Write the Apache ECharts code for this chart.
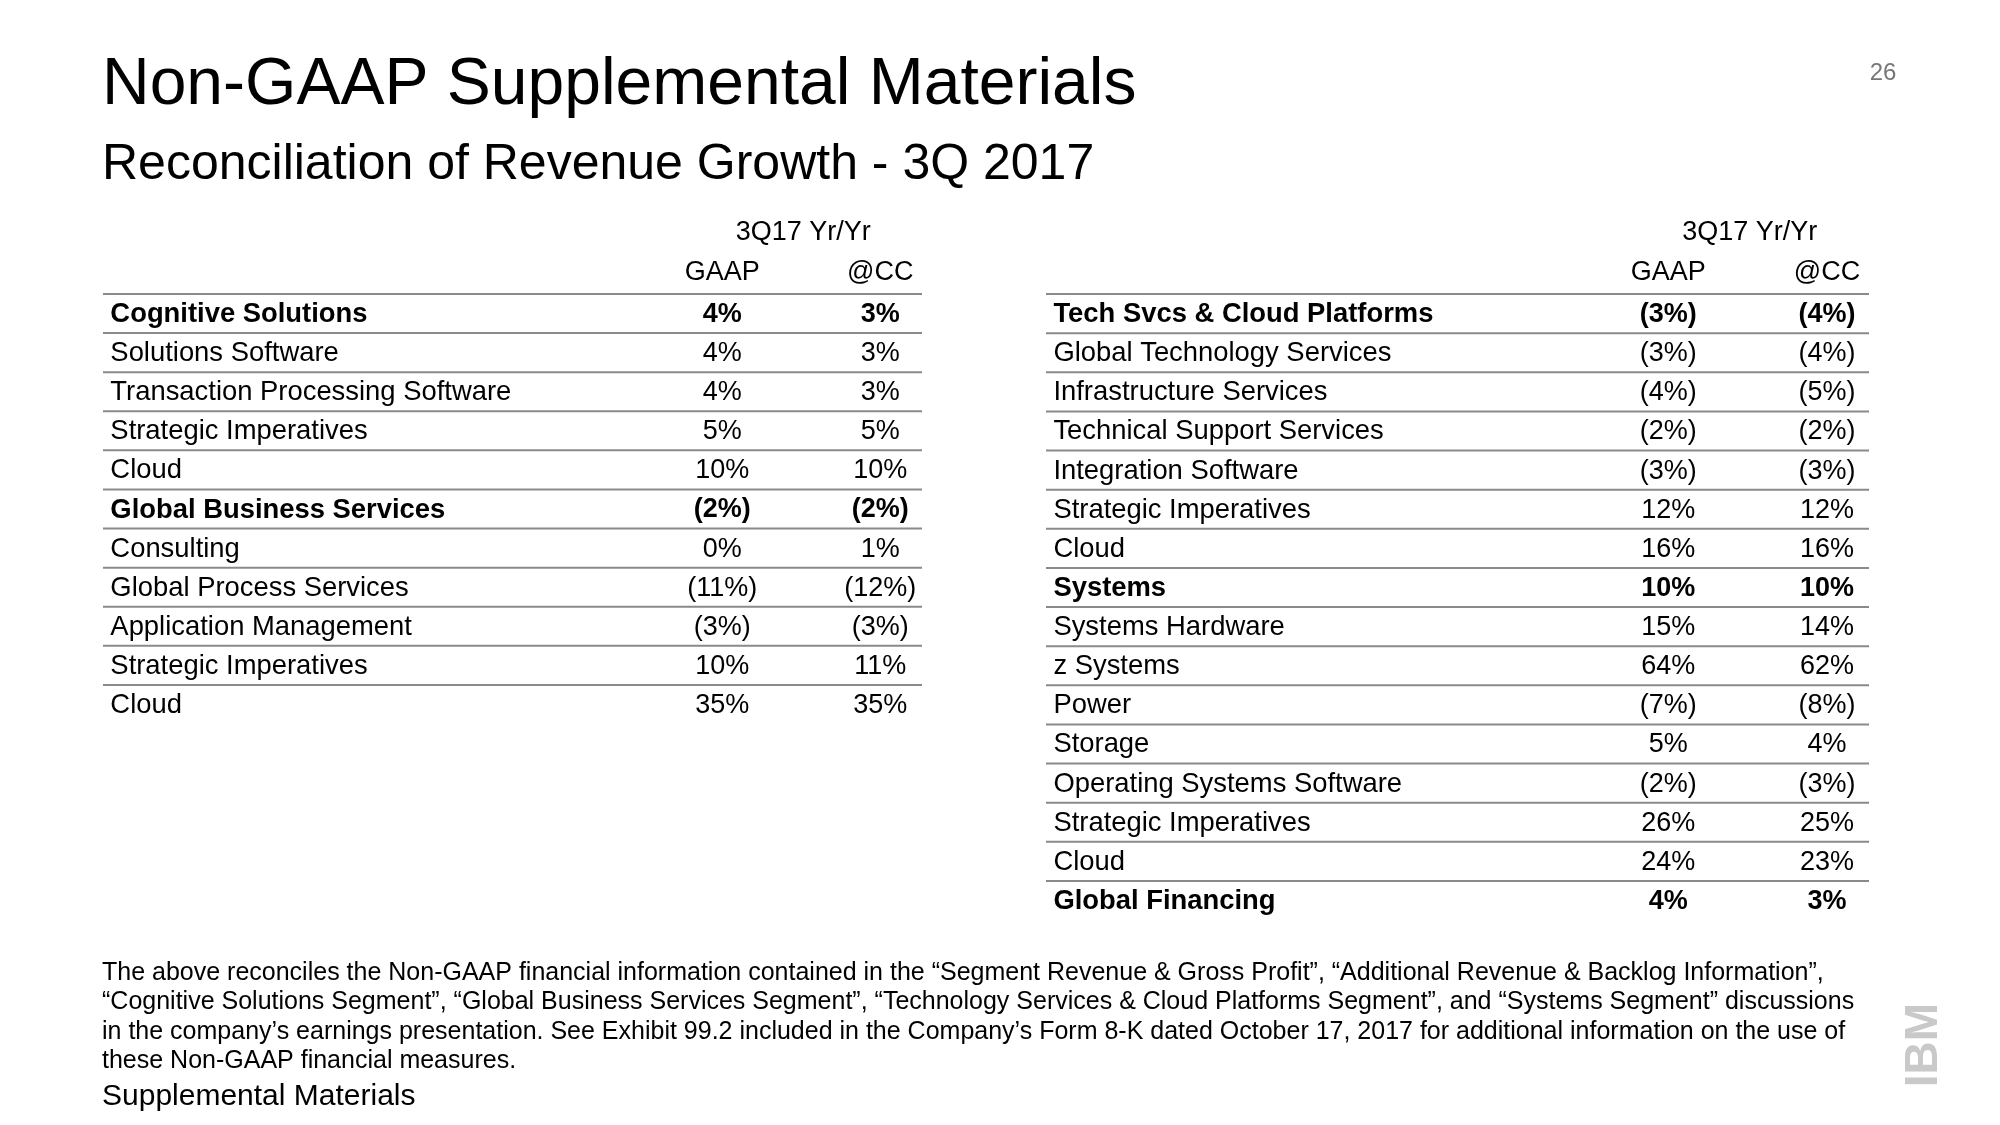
<!DOCTYPE html>
<html>
<head>
<meta charset="utf-8">
<script src="https://cdn.jsdelivr.net/npm/echarts@6/dist/echarts.min.js"></script>
<style>html,body{margin:0;padding:0;background:#fff}#chart{width:2000px;height:1125px}</style>
</head>
<body>
<div id="chart"></div>
<script>
// ---------------- data ----------------
const leftRows = ['Cognitive Solutions', 'Solutions Software', 'Transaction Processing Software', 'Strategic Imperatives', 'Cloud',
  'Global Business Services', 'Consulting', 'Global Process Services', 'Application Management', 'Strategic Imperatives', 'Cloud'];
const leftGaap = [4, 4, 4, 5, 10, -2, 0, -11, -3, 10, 35];
const leftCc = [3, 3, 3, 5, 10, -2, 1, -12, -3, 11, 35];
const leftSegments = ['Cognitive Solutions', 'Global Business Services'];

const rightRows = ['Tech Svcs & Cloud Platforms', 'Global Technology Services', 'Infrastructure Services', 'Technical Support Services',
  'Integration Software', 'Strategic Imperatives', 'Cloud', 'Systems', 'Systems Hardware', 'z Systems', 'Power', 'Storage',
  'Operating Systems Software', 'Strategic Imperatives', 'Cloud', 'Global Financing'];
const rightGaap = [-3, -3, -4, -2, -3, 12, 16, 10, 15, 64, -7, 5, -2, 26, 24, 4];
const rightCc = [-4, -4, -5, -2, -3, 12, 16, 10, 14, 62, -8, 4, -3, 25, 23, 3];
const rightSegments = ['Tech Svcs & Cloud Platforms', 'Systems', 'Global Financing'];

const periodLabel = '3Q17 Yr/Yr';
const columnLabels = ['GAAP', '@CC'];

const titleText = 'Non-GAAP Supplemental Materials';
const subtitleText = 'Reconciliation of Revenue Growth - 3Q 2017';
const pageNumber = '26';
const footnoteLines = [
  'The above reconciles the Non-GAAP financial information contained in the \u201cSegment Revenue & Gross Profit\u201d, \u201cAdditional Revenue & Backlog Information\u201d,',
  '\u201cCognitive Solutions Segment\u201d, \u201cGlobal Business Services Segment\u201d, \u201cTechnology Services & Cloud Platforms Segment\u201d, and \u201cSystems Segment\u201d discussions',
  'in the company\u2019s earnings presentation. See Exhibit 99.2 included in the Company\u2019s Form 8-K dated October 17, 2017 for additional information on the use of',
  'these Non-GAAP financial measures.'
];
const footerText = 'Supplemental Materials';

// ---------------- layout / style ----------------
const FONT = 'Liberation Sans, Arial, sans-serif';
const COL = { name: 0.009, gaap: 0.756, cc: 0.949, period: 0.855 };
const LINE_COLOR = '#8a8a8a';

function fmt(v) { return v < 0 ? '(' + (-v) + '%)' : v + '%'; }

function txt(text, x, y, align, weight, size, color) {
  return {
    type: 'text', x: x, y: y,
    style: {
      text: text, fill: color || '#000', fontSize: size || 27, fontFamily: FONT, fontWeight: weight || 'normal',
      align: align, textAlign: align, verticalAlign: 'middle', textVerticalAlign: 'middle'
    }
  };
}

function tableRenderer(rows, segments) {
  return function (params, api) {
    const i = api.value(0);
    const band = api.size([0, 1])[1];
    const p = api.coord([COL.name, i]);
    const yMid = p[1];
    const xG = api.coord([COL.gaap, i])[0];
    const xC = api.coord([COL.cc, i])[0];
    const xL = api.coord([0, i])[0];
    const xR = api.coord([1, i])[0];
    const yTop = yMid - band / 2;
    const w = segments.indexOf(rows[i]) >= 0 ? 'bold' : 'normal';
    const children = [
      { type: 'line', shape: { x1: xL, y1: yTop, x2: xR, y2: yTop }, style: { stroke: LINE_COLOR, lineWidth: 2 } },
      txt(rows[i], p[0], yMid + 1, 'left', w, 27.4),
      txt(fmt(api.value(1)), xG, yMid + 1, 'center', w),
      txt(fmt(api.value(2)), xC, yMid + 1, 'center', w)
    ];
    if (i === 0) {
      children.push(txt(columnLabels[0], xG, yMid - 1.05 * band, 'center'));
      children.push(txt(columnLabels[1], xC, yMid - 1.05 * band, 'center'));
      children.push(txt(periodLabel, api.coord([COL.period, i])[0], yMid - 2.07 * band, 'center'));
    }
    return { type: 'group', children: children };
  };
}

function tableData(rows, g, c) { return rows.map((r, i) => [i, g[i], c[i]]); }

const chart = echarts.init(document.getElementById('chart'), null, { renderer: 'canvas' });
chart.setOption({
  backgroundColor: '#fff',
  animation: false,
  grid: [
    { left: 103, top: 294, width: 819, height: 430 },
    { left: 1046, top: 294, width: 823, height: 626 }
  ],
  xAxis: [
    { gridIndex: 0, type: 'value', min: 0, max: 1, show: false },
    { gridIndex: 1, type: 'value', min: 0, max: 1, show: false }
  ],
  yAxis: [
    { gridIndex: 0, type: 'value', min: -0.5, max: leftRows.length - 0.5, inverse: true, show: false },
    { gridIndex: 1, type: 'value', min: -0.5, max: rightRows.length - 0.5, inverse: true, show: false }
  ],
  series: [
    { type: 'custom', xAxisIndex: 0, yAxisIndex: 0, renderItem: tableRenderer(leftRows, leftSegments),
      data: tableData(leftRows, leftGaap, leftCc), silent: true },
    { type: 'custom', xAxisIndex: 1, yAxisIndex: 1, renderItem: tableRenderer(rightRows, rightSegments),
      data: tableData(rightRows, rightGaap, rightCc), silent: true }
  ],
  graphic: [
    txt(titleText, 102, 86, 'left', 'normal', 66),
    txt(subtitleText, 102, 165, 'left', 'normal', 50),
    txt(pageNumber, 1883, 73, 'center', 'normal', 24, '#777'),
    ...footnoteLines.map((l, k) => txt(l, 102, 973 + k * 29.4, 'left', 'normal', 25)),
    txt(footerText, 102, 1097, 'left', 'normal', 30),
    { type: 'text', x: 1924, y: 1045, rotation: Math.PI / 2,
      style: { text: 'IBM', fill: '#c9c9c9', fontSize: 46, fontWeight: 'bold', fontFamily: FONT,
        align: 'center', textAlign: 'center', verticalAlign: 'middle', textVerticalAlign: 'middle' } }
  ]
});
</script>
</body>
</html>
